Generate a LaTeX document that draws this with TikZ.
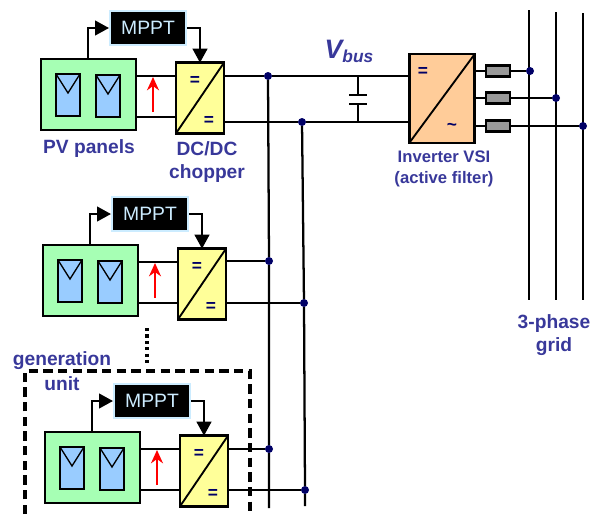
\documentclass[tikz,border=0pt]{standalone}
\usepackage{fontspec}
\setmainfont{Liberation Sans}
\usetikzlibrary{arrows.meta}
\definecolor{lblue}{HTML}{38389A}
\definecolor{dotblue}{HTML}{000066}
\definecolor{pvgreen}{HTML}{A6FFB4}
\definecolor{cellblue}{HTML}{99CCFF}
\definecolor{chopyellow}{HTML}{FFFF99}
\definecolor{invorange}{HTML}{FFCC99}
\definecolor{mpptedge}{HTML}{CCECFF}
\tikzset{
  px/.style={x=0.75pt, y=-0.75pt},
  wire/.style={line width=1.7pt},
  ctrl/.style={line width=1.7pt, -{Triangle[length=10.5pt, width=11pt]}},
  blk/.style={draw, line width=1.8pt, inner sep=0pt, outer sep=0pt},
  pvbox/.style={blk, fill=pvgreen, minimum width=71pt, minimum height=53pt},
  cell/.style={blk, fill=cellblue, minimum width=18pt, minimum height=31.5pt},
  chopbox/.style={blk, fill=chopyellow, minimum width=36pt, minimum height=53pt},
  mpptbox/.style={draw=mpptedge, line width=1.5pt, fill=black, text=mpptedge, inner sep=0pt,
    minimum width=57pt, minimum height=25pt, font=\fontsize{14.5pt}{16pt}\selectfont},
  lbl/.style={text=lblue, font=\fontsize{14.4pt}{17pt}\selectfont\bfseries, align=center, inner sep=0pt},
  sgn/.style={text=dotblue, font=\fontsize{13pt}{14pt}\selectfont\bfseries, inner sep=0pt},
  res/.style={blk, fill=gray!80, minimum width=18pt, minimum height=8.5pt},
  busdot/.style={circle, fill=dotblue, minimum size=6pt, inner sep=0pt, outer sep=0pt},
  gridline/.style={line width=1.7pt},
}
\newcommand{\genunit}[3]{%
  \begin{scope}[shift={(#2,#3)}]
    \node[pvbox] (pv#1) at (88.5,94.5) {};
    \node[cell] (cella#1) at (68,95) {};
    \node[cell] (cellb#1) at (108,96) {};
    \draw[line width=1pt] (cella#1.north west) -- ++(12,19) -- (cella#1.north east);
    \draw[line width=1pt] (cellb#1.north west) -- ++(12,19) -- (cellb#1.north east);
    \node[mpptbox] (mppt#1) at (148,28) {MPPT};
    \node[chopbox] (chop#1) at (200,98) {};
    \draw[line width=1.4pt] (chop#1.south west) -- (chop#1.north east);
    \node[sgn] (eqa#1) at (195,81) {=};
    \node[sgn] (eqb#1) at (209,121) {=};
    % entree / sortie du panneau
    \draw[wire] (pv#1.east |- 0,76) -- (chop#1.west |- 0,76);
    \draw[wire] (pv#1.east |- 0,117) -- (chop#1.west |- 0,117);
    \draw[-{Stealth[length=10pt, width=9pt]}, red, line width=1.4pt] (153,112) coordinate (ia#1) -- (153,77) coordinate (ib#1);
    \draw[ctrl] (pv#1.north -| 88,0) |- (mppt#1.west);
    \draw[ctrl] (mppt#1.east) -| (chop#1.north);
  \end{scope}
}
\begin{document}
\begin{tikzpicture}[px]
  \useasboundingbox (0,0) rectangle (596,514);

  \genunit{1}{0}{0}
  \genunit{2}{2}{186}
  \genunit{3}{4}{373}

  % les deux barres DC
  \node[busdot] (pa1) at (268,76) {};
  \node[busdot] (pb1) at (302,122) {};
  \node[busdot] (pa2) at (269,261) {};
  \node[busdot] (pb2) at (304,303) {};
  \node[busdot] (pa3) at (269,449) {};
  \node[busdot] (pb3) at (305,490) {};
  \coordinate (enda) at (269,508);
  \coordinate (endb) at (305,506);
  \draw[wire] (pa1) -- (pa2) -- (pa3) -- (enda);
  \draw[wire] (pb1) -- (pb2) -- (pb3) -- (endb);
  \draw[wire] (chop2.east |- pa2) -- (pa2);
  \draw[wire] (chop2.east |- pb2) -- (pb2);
  \draw[wire] (chop3.east |- pa3) -- (pa3);
  \draw[wire] (chop3.east |- pb3) -- (pb3);

  % onduleur et condensateur
  \node[blk, fill=invorange, minimum width=49pt, minimum height=66.5pt] (inv) at (442,98.5) {};
  \draw[line width=1.4pt] (inv.south west) -- (inv.north east);
  \node[sgn] (eqinv) at (423,72) {=};
  \node[sgn] (acinv) at (452,127) {\textasciitilde};
  \draw[wire] (chop1.east |- pa1) -- (pa1) -- (inv.west |- pa1);
  \draw[wire] (chop1.east |- pb1) -- (pb1) -- (inv.west |- pb1);
  \coordinate (capa) at (358,95);
  \coordinate (capb) at (358,104);
  \draw[wire] (358,76) -- (capa);
  \draw[wire] (capb) -- (358,121);
  \draw[wire] (349,95) -- (367,95);
  \draw[wire] (349,104) -- (367,104);

  % reseau 3 phases
  \coordinate (ga) at (529,10);
  \coordinate (gb) at (556,12);
  \coordinate (gc) at (583,13);
  \draw[gridline] (ga) -- (529,300);
  \draw[gridline] (gb) -- (556,300);
  \draw[gridline] (gc) -- (583,300);
  \node[res] (ra) at (498,71) {};
  \node[res] (rb) at (498,98) {};
  \node[res] (rc) at (498,126) {};
  \node[busdot] (da) at (530,71) {};
  \node[busdot] (db) at (556,98) {};
  \node[busdot] (dc) at (583,126) {};
  \draw[wire] (inv.east |- ra) -- (ra);
  \draw[wire] (inv.east |- rb) -- (rb);
  \draw[wire] (inv.east |- rc) -- (rc);
  \draw[wire] (ra) -- (da);
  \draw[wire] (rb) -- (db);
  \draw[wire] (rc) -- (dc);

  % unite de generation
  \draw[line width=2.8pt, dash pattern=on 7pt off 4pt] (25,514) -- (25,371) -- (250,371) -- (250,514);
  \draw[line width=2.8pt, dash pattern=on 2.4pt off 2.4pt] (147,328) -- (147,366);

  \node[lbl] (lpv) at (89,149) {PV panels};
  \node[lbl] (lchop) at (207,162) {DC/DC\\chopper};
  \node[lbl, font=\fontsize{12.5pt}{15.5pt}\selectfont\bfseries] (linv) at (444,169) {Inverter VSI\\(active filter)};
  \node[lbl] (lgrid) at (554,335) {3-phase\\grid};
  \node[lbl] (lgen) at (62,361) {generation};
  \node[lbl] (lunit) at (62,384) {unit};
  \node[text=lblue, inner sep=0pt, font=\fontsize{20pt}{22pt}\selectfont\bfseries\itshape] (lvbus) at (349,51) {V\raisebox{-3pt}{\fontsize{13pt}{14pt}\selectfont bus}};
\end{tikzpicture}
\end{document}
